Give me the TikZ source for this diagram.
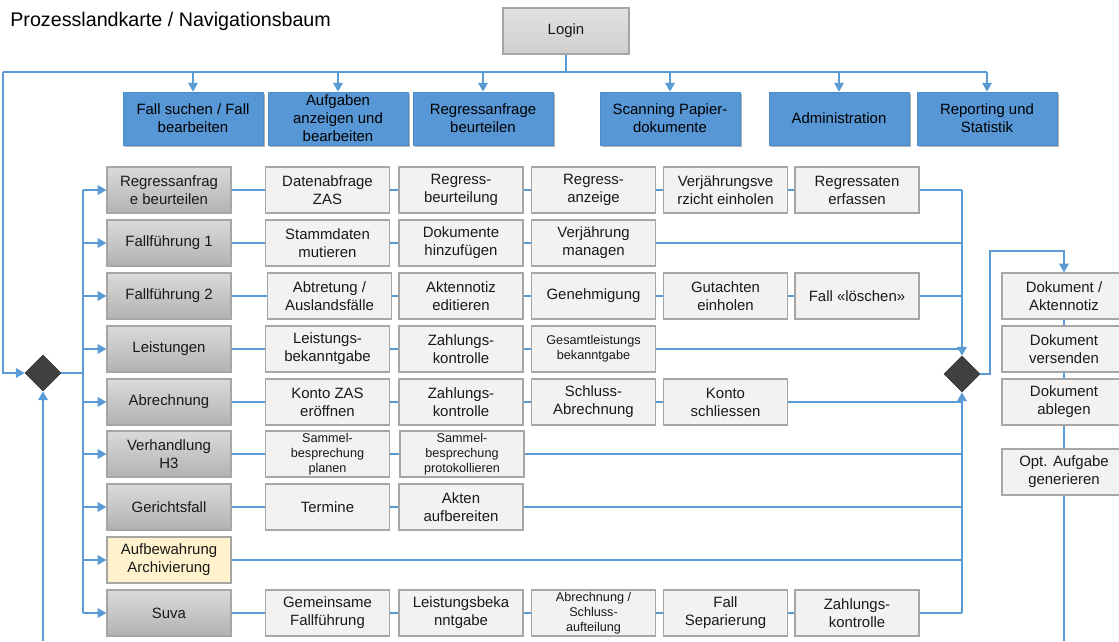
\documentclass[tikz,border=0pt]{standalone}
\usepackage{fontspec}
\setmainfont{Liberation Sans}
\usetikzlibrary{shapes.geometric,arrows.meta}

\definecolor{flowblue}{HTML}{5B9BD5}
\definecolor{navfill}{HTML}{5797D6}
\definecolor{navline}{HTML}{4A8DCC}
\definecolor{headtop}{HTML}{DADADA}
\definecolor{headbottom}{HTML}{B2B2B2}
\definecolor{taskfill}{HTML}{F2F2F2}
\definecolor{boxline}{HTML}{A6A6A6}
\definecolor{archfill}{HTML}{FFF2CC}
\definecolor{gatefill}{HTML}{404040}

\tikzset{
  flow/.style={draw=flowblue, line width=0.8pt},
  tip/.style={-{Triangle[width=5.5pt,length=5pt]}},
  boxtext/.style={font=\fontsize{8.5}{10.2}\selectfont, align=center, text=black!90},
  smalltext/.style={font=\fontsize{7.2}{8.6}\selectfont},
  navbox/.style={boxtext, text=black, draw=navline, line width=0.4pt, fill=navfill,
    minimum width=2.8cm, minimum height=1.06cm, inner sep=1pt,
    preaction={fill=black!30, transform canvas={xshift=0.9pt, yshift=-0.9pt}}},
  headbox/.style={boxtext, draw=boxline, line width=0.7pt, top color=headtop, bottom color=headbottom,
    minimum width=2.48cm, minimum height=0.92cm, inner sep=1pt},
  taskbox/.style={boxtext, draw=boxline, line width=0.7pt, fill=taskfill,
    minimum width=2.48cm, minimum height=0.92cm, inner sep=1pt},
  archbox/.style={boxtext, draw=boxline, line width=0.7pt, fill=archfill,
    minimum width=2.48cm, minimum height=0.92cm, inner sep=1pt},
  gate/.style={diamond, aspect=1, fill=gatefill, draw=gatefill, minimum width=0.72cm,
    minimum height=0.72cm, inner sep=0pt}
}

\begin{document}
\begin{tikzpicture}
  \useasboundingbox (0,0) rectangle (22.38,-12.82);
  \clip (0,0) rectangle (22.38,-12.82);

  % Title and login
  \node[anchor=west, inner sep=0pt, font=\fontsize{11.2}{13}\selectfont] (title) at (0.2,-0.42) {Prozesslandkarte / Navigationsbaum};
  \node[headbox, minimum width=2.52cm, top color=headtop!80, bottom color=headtop!70!headbottom] (login) at (11.32,-0.62) {Login};

  % Top navigation
  \node[navbox] (nav1) at (3.86,-2.37) {Fall suchen / Fall\\bearbeiten};
  \node[navbox] (nav2) at (6.76,-2.37) {Aufgaben\\anzeigen und\\bearbeiten};
  \node[navbox] (nav3) at (9.66,-2.37) {Regressanfrage\\beurteilen};
  \node[navbox] (nav4) at (13.40,-2.37) {Scanning Papier-\\dokumente};
  \node[navbox] (nav5) at (16.78,-2.37) {Administration};
  \node[navbox] (nav6) at (19.74,-2.37) {Reporting und\\Statistik};

  % Gateways
  \node[gate] (ld) at (0.86,-7.46) {};
  \node[gate] (rd) at (19.24,-7.48) {};

  % Process rows
  \node[headbox] (h1) at (3.38,-3.80) {Regressanfrag\\e beurteilen};
  \node[taskbox] (t1a) at (6.55,-3.80) {Datenabfrage\\ZAS};
  \node[taskbox] (t1b) at (9.22,-3.80) {Regress-\\beurteilung};
  \node[taskbox] (t1c) at (11.87,-3.80) {Regress-\\anzeige};
  \node[taskbox] (t1d) at (14.51,-3.80) {Verjährungsve\\rzicht einholen};
  \node[taskbox] (t1e) at (17.14,-3.80) {Regressaten\\erfassen};

  \node[headbox] (h2) at (3.38,-4.86) {Fallführung 1};
  \node[taskbox] (t2a) at (6.55,-4.86) {Stammdaten\\mutieren};
  \node[taskbox] (t2b) at (9.22,-4.86) {Dokumente\\hinzufügen};
  \node[taskbox] (t2c) at (11.87,-4.86) {Verjährung\\managen};

  \node[headbox] (h3) at (3.38,-5.92) {Fallführung 2};
  \node[taskbox] (t3a) at (6.59,-5.92) {Abtretung /\\Auslandsfälle};
  \node[taskbox] (t3b) at (9.22,-5.92) {Aktennotiz\\editieren};
  \node[taskbox] (t3c) at (11.87,-5.92) {Genehmigung};
  \node[taskbox] (t3d) at (14.51,-5.92) {Gutachten\\einholen};
  \node[taskbox] (t3e) at (17.14,-5.92) {Fall «löschen»};

  \node[headbox] (h4) at (3.38,-6.98) {Leistungen};
  \node[taskbox] (t4a) at (6.55,-6.98) {Leistungs-\\bekanntgabe};
  \node[taskbox] (t4b) at (9.22,-6.98) {Zahlungs-\\kontrolle};
  \node[taskbox, smalltext] (t4c) at (11.87,-6.98) {Gesamtleistungs\\bekanntgabe};

  \node[headbox] (h5) at (3.38,-8.04) {Abrechnung};
  \node[taskbox] (t5a) at (6.55,-8.04) {Konto ZAS\\eröffnen};
  \node[taskbox] (t5b) at (9.22,-8.04) {Zahlungs-\\kontrolle};
  \node[taskbox] (t5c) at (11.87,-8.04) {Schluss-\\Abrechnung};
  \node[taskbox] (t5d) at (14.51,-8.04) {Konto\\schliessen};

  \node[headbox] (h6) at (3.38,-9.08) {Verhandlung\\H3};
  \node[taskbox, smalltext] (t6a) at (6.55,-9.08) {Sammel-\\besprechung\\planen};
  \node[taskbox, smalltext] (t6b) at (9.24,-9.08) {Sammel-\\besprechung\\protokollieren};

  \node[headbox] (h7) at (3.38,-10.14) {Gerichtsfall};
  \node[taskbox] (t7a) at (6.55,-10.14) {Termine};
  \node[taskbox] (t7b) at (9.22,-10.14) {Akten\\aufbereiten};

  \node[archbox] (h8) at (3.38,-11.20) {Aufbewahrung\\Archivierung};

  \node[headbox] (h9) at (3.38,-12.26) {Suva};
  \node[taskbox] (t9a) at (6.55,-12.26) {Gemeinsame\\Fallführung};
  \node[taskbox] (t9b) at (9.22,-12.26) {Leistungsbeka\\nntgabe};
  \node[taskbox, smalltext] (t9c) at (11.87,-12.26) {Abrechnung /\\Schluss-\\aufteilung};
  \node[taskbox] (t9d) at (14.51,-12.26) {Fall\\Separierung};
  \node[taskbox] (t9e) at (17.14,-12.26) {Zahlungs-\\kontrolle};

  % Document column
  \node[taskbox] (d1) at (21.28,-5.92) {Dokument /\\Aktennotiz};
  \node[taskbox] (d2) at (21.28,-6.98) {Dokument\\versenden};
  \node[taskbox] (d3) at (21.28,-8.04) {Dokument\\ablegen};
  \node[taskbox] (d4) at (21.28,-9.44) {Opt. Aufgabe\\generieren};

  % Helper points
  \coordinate (hub) at (0.06,-1.44);
  \coordinate (lbus) at (1.66,-3.80);
  \coordinate (rturn) at (19.80,-5.02);
  \coordinate (lfoot) at (0.86,-12.82);
  \coordinate (rfoot) at (21.28,-12.82);

  % Login to navigation
  \draw[flow] (login) -- (login |- hub);
  \draw[flow] (hub) -- (nav6 |- hub);
  \draw[flow, tip] (nav1 |- hub) -- (nav1);
  \draw[flow, tip] (nav2 |- hub) -- (nav2);
  \draw[flow, tip] (nav3 |- hub) -- (nav3);
  \draw[flow, tip] (nav4 |- hub) -- (nav4);
  \draw[flow, tip] (nav5 |- hub) -- (nav5);
  \draw[flow, tip] (nav6 |- hub) -- (nav6);

  % Left gateway and bus
  \draw[flow, tip] (hub) -- (hub |- ld) -- (ld.west);
  \draw[flow, tip] (lfoot) -- (ld.south);
  \draw[flow] (ld.east) -- (ld -| lbus);
  \draw[flow] (lbus |- h1) -- (lbus |- h9);
  \draw[flow, tip] (lbus |- h1) -- (h1);
  \draw[flow, tip] (lbus |- h2) -- (h2);
  \draw[flow, tip] (lbus |- h3) -- (h3);
  \draw[flow, tip] (lbus |- h4) -- (h4);
  \draw[flow, tip] (lbus |- h5) -- (h5);
  \draw[flow, tip] (lbus |- h6) -- (h6);
  \draw[flow, tip] (lbus |- h7) -- (h7);
  \draw[flow, tip] (lbus |- h8) -- (h8);
  \draw[flow, tip] (lbus |- h9) -- (h9);

  % Rows
  \draw[flow] (h1) -- (t1a) -- (t1b) -- (t1c) -- (t1d) -- (t1e) -- (t1e -| rd);
  \draw[flow] (h2) -- (t2a) -- (t2b) -- (t2c) -- (t2c -| rd);
  \draw[flow] (h3) -- (t3a) -- (t3b) -- (t3c) -- (t3d) -- (t3e) -- (t3e -| rd);
  \draw[flow] (h4) -- (t4a) -- (t4b) -- (t4c) -- (t4c -| rd);
  \draw[flow] (h5) -- (t5a) -- (t5b) -- (t5c) -- (t5d) -- (t5d -| rd);
  \draw[flow] (h6) -- (t6a) -- (t6b) -- (t6b -| rd);
  \draw[flow] (h7) -- (t7a) -- (t7b) -- (t7b -| rd);
  \draw[flow] (h8) -- (h8 -| rd);
  \draw[flow] (h9) -- (t9a) -- (t9b) -- (t9c) -- (t9d) -- (t9e) -- (t9e -| rd);

  % Right gateway
  \draw[flow, tip] (t1e -| rd) -- (rd.north);
  \draw[flow, tip] (t9e -| rd) -- (rd.south);
  \draw[flow, tip] (rd.east) -| (rturn) -| (d1.north);
  \draw[flow] (d1) -- (d2) -- (d3) -- (d4) -- (rfoot);
\end{tikzpicture}
\end{document}
